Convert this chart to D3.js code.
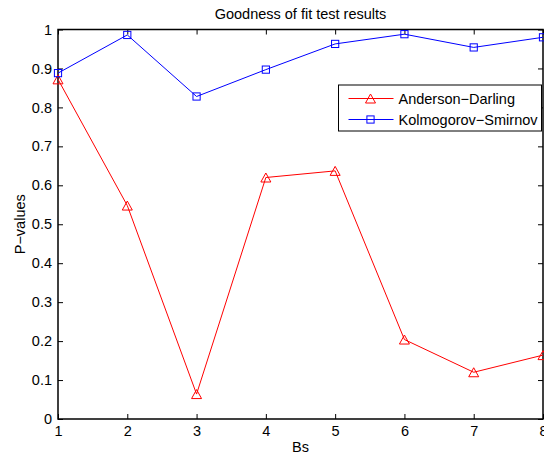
<!DOCTYPE html>
<html>
<head>
<meta charset="utf-8">
<script src="https://cdn.jsdelivr.net/npm/d3@7"></script>
<style>
  html, body { margin: 0; padding: 0; background: #fff; }
  svg { display: block; font-family: "Liberation Sans", Arial, Helvetica, sans-serif; }
</style>
</head>
<body>
<svg id="chart" width="544" height="457"></svg>
<script>
// Goodness of fit p-values per Bs setting
const bs = [1, 2, 3, 4, 5, 6, 7, 8];
const andersonDarling = [0.872, 0.548, 0.064, 0.620, 0.637, 0.204, 0.120, 0.164];
const kolmogorovSmirnov = [0.888, 0.986, 0.828, 0.897, 0.963, 0.988, 0.954, 0.980];
const xTicks = [1, 2, 3, 4, 5, 6, 7, 8];
const yTicks = [0, 0.1, 0.2, 0.3, 0.4, 0.5, 0.6, 0.7, 0.8, 0.9, 1];
const seriesNames = ["Anderson\u2212Darling", "Kolmogorov\u2212Smirnov"];

(function draw() {
  const svg = d3.select("#chart");
  const pLeft = 58, pRight = 543, pTop = 29.5, pBottom = 419;

  const x = d3.scaleLinear().domain([1, 8]).range([pLeft, pRight]);
  const y = d3.scaleLinear().domain([0, 1]).range([pBottom, pTop]);

  const fontSize = 14.5;

  // axes with inward ticks on all four sides
  const tickLen = 5;
  const gx = svg.append("g").attr("transform", `translate(0,${pBottom})`)
    .call(d3.axisBottom(x).tickValues(xTicks).tickSizeInner(-tickLen).tickSizeOuter(0).tickPadding(7).tickFormat(d3.format("d")));
  const gxTop = svg.append("g").attr("transform", `translate(0,${pTop})`)
    .call(d3.axisTop(x).tickValues(xTicks).tickSizeInner(-tickLen).tickSizeOuter(0).tickFormat(""));
  const gy = svg.append("g").attr("transform", `translate(${pLeft},0)`)
    .call(d3.axisLeft(y).tickValues(yTicks).tickSizeInner(-tickLen).tickSizeOuter(0).tickPadding(6).tickFormat(d => d === 0 ? "0" : d === 1 ? "1" : d3.format(".1f")(d)));
  const gyRight = svg.append("g").attr("transform", `translate(${pRight},0)`)
    .call(d3.axisRight(y).tickValues(yTicks).tickSizeInner(-tickLen).tickSizeOuter(0).tickFormat(""));

  [gx, gxTop, gy, gyRight].forEach(g => {
    g.select(".domain").remove();
    g.selectAll(".tick line").attr("stroke", "#000").attr("stroke-width", 1);
    g.selectAll("text").attr("font-size", fontSize).attr("fill", "#000")
      .attr("font-family", "'Liberation Sans', Arial, sans-serif");
  });

  // axes box
  svg.append("rect")
    .attr("x", pLeft).attr("y", pTop)
    .attr("width", pRight - pLeft).attr("height", pBottom - pTop)
    .attr("fill", "none").attr("stroke", "#000").attr("stroke-width", 1.5);

  // lines and markers
  const line = d3.line().x((d, i) => x(bs[i])).y(d => y(d));

  function triangle(g, cx, cy, color) {
    const w = 5, h = 4.5;
    g.append("path")
      .attr("d", `M${cx},${cy - h}L${cx + w},${cy + h}L${cx - w},${cy + h}Z`)
      .attr("fill", "none").attr("stroke", color).attr("stroke-width", 1);
  }
  function square(g, cx, cy, color) {
    const s = 3.6;
    g.append("rect")
      .attr("x", cx - s).attr("y", cy - s).attr("width", 2 * s).attr("height", 2 * s)
      .attr("fill", "none").attr("stroke", color).attr("stroke-width", 1);
  }

  const red = "#ff0000", blue = "#0000ff";

  const gAD = svg.append("g");
  gAD.append("path").datum(andersonDarling).attr("d", line)
    .attr("fill", "none").attr("stroke", red).attr("stroke-width", 1);
  andersonDarling.forEach((v, i) => triangle(gAD, x(bs[i]), y(v), red));

  const gKS = svg.append("g");
  gKS.append("path").datum(kolmogorovSmirnov).attr("d", line)
    .attr("fill", "none").attr("stroke", blue).attr("stroke-width", 1);
  kolmogorovSmirnov.forEach((v, i) => square(gKS, x(bs[i]), y(v), blue));

  // title and axis labels
  svg.append("text").attr("x", (pLeft + pRight) / 2).attr("y", 19)
    .attr("text-anchor", "middle").attr("font-size", fontSize).text("Goodness of fit test results");
  svg.append("text").attr("x", (pLeft + pRight) / 2).attr("y", 452)
    .attr("text-anchor", "middle").attr("font-size", fontSize).text("Bs");
  svg.append("text").attr("transform", `translate(25,${(pTop + pBottom) / 2}) rotate(-90)`)
    .attr("text-anchor", "middle").attr("font-size", fontSize).text("P\u2212values");

  // legend
  const lg = svg.append("g");
  const lx = 338.5, ly = 85, lw = 203, lh = 46;
  lg.append("rect").attr("x", lx).attr("y", ly).attr("width", lw).attr("height", lh)
    .attr("fill", "#fff").attr("stroke", "#000").attr("stroke-width", 1);
  const rows = [
    { name: seriesNames[0], color: red, mark: triangle, yy: ly + 13.5 },
    { name: seriesNames[1], color: blue, mark: square, yy: ly + 34.5 }
  ];
  rows.forEach(r => {
    lg.append("line").attr("x1", lx + 10).attr("x2", lx + 55).attr("y1", r.yy).attr("y2", r.yy)
      .attr("stroke", r.color).attr("stroke-width", 1);
    r.mark(lg, lx + 32, r.yy, r.color);
    lg.append("text").attr("x", lx + 60).attr("y", r.yy).attr("dy", "0.35em")
      .attr("font-size", fontSize).text(r.name);
  });
})();
</script>
</body>
</html>
